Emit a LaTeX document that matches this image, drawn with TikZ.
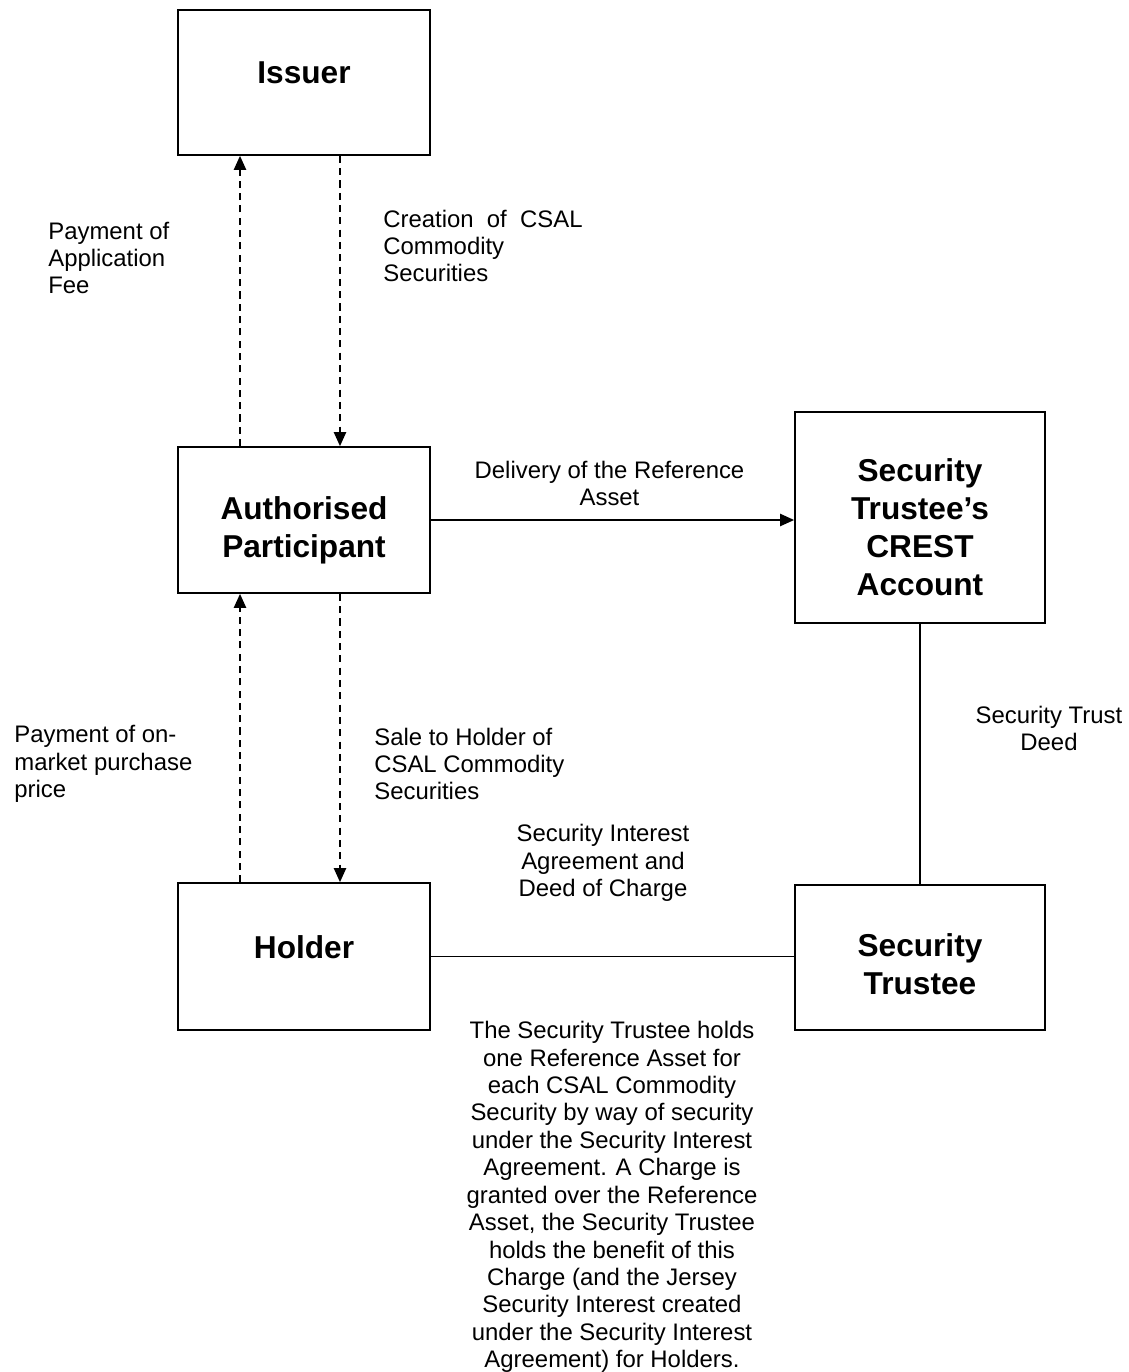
\documentclass[tikz,border=0pt]{standalone}
\usepackage{fontspec}
\setmainfont{Liberation Sans}
\usetikzlibrary{arrows.meta}
\newcommand{\lblfont}{\fontsize{13.6}{15.6}\selectfont}
\newcommand{\boxfont}{\fontsize{18}{21.6}\selectfont\bfseries}

\begin{document}
\begin{tikzpicture}[
  box/.style={draw, line width=1pt, minimum width=5.04cm, minimum height=2.9cm},
  title/.style={align=center, inner sep=0pt, font=\boxfont},
  lbl/.style={align=left, anchor=west, inner sep=0pt, font=\lblfont},
  clbl/.style={align=center, inner sep=0pt, font=\lblfont},
  dasharrow/.style={-{Triangle[length=8pt,width=7pt]}, line width=0.9pt, dash pattern=on 4pt off 3pt},
  solidarrow/.style={-{Triangle[length=8pt,width=7pt]}, line width=0.9pt},
  link/.style={line width=1pt}]
  \useasboundingbox (0,0) rectangle (22.56,-27.44);
  % boxes
  \node[box] (issuer)  at (6.08,-1.65)  {};
  \node[box, minimum height=2.92cm] (ap) at (6.08,-10.4) {};
  \node[box, minimum width=5cm, minimum height=4.22cm] (crest) at (18.4,-10.35) {};
  \node[box, minimum height=2.94cm] (holder) at (6.08,-19.13) {};
  \node[box, minimum width=5cm] (trustee) at (18.4,-19.15) {};
  \node[title] (issuertxt)  at ([yshift=0.2cm]issuer.center)   {Issuer};
  \node[title] (aptxt)      at ([yshift=-0.2cm]ap.center)      {Authorised\\Participant};
  \node[title] (cresttxt)   at ([yshift=-0.2cm]crest.center)   {Security\\Trustee’s\\CREST\\Account};
  \node[title] (holdertxt)  at ([yshift=0.18cm]holder.center)  {Holder};
  \node[title] (trusteetxt) at ([yshift=-0.14cm]trustee.center) {Security\\Trustee};
  % labels
  \node[lbl]  (feelbl)    at (0.96,-5.16)  {Payment of\\Application\\Fee};
  \node[lbl]  (createlbl) at (7.66,-4.92)  {Creation~ of~ CSAL\\Commodity\\Securities};
  \node[clbl] (deliverlbl) at (12.19,-9.67) {Delivery of the Reference\\Asset};
  \node[lbl]  (pricelbl)  at (0.28,-15.28) {Payment of on-\\market purchase\\price};
  \node[lbl]  (salelbl)   at (7.48,-15.28) {Sale to Holder of\\CSAL Commodity\\Securities};
  \node[clbl] (deedlbl)   at (20.98,-14.57) {Security Trust\\Deed};
  \node[clbl] (chargelbl) at (12.06,-17.26) {Security Interest\\Agreement and\\Deed of Charge};
  \node[clbl] (notelbl)   at (12.24,-23.94) {The Security Trustee holds\\one Reference Asset for\\each CSAL Commodity\\Security by way of security\\under the Security Interest\\Agreement. A Charge is\\granted over the Reference\\Asset, the Security Trustee\\holds the benefit of this\\Charge (and the Jersey\\Security Interest created\\under the Security Interest\\Agreement) for Holders.};
  % connectors
  \draw[dasharrow] ([xshift=-1.28cm]ap.north) -- ([xshift=-1.28cm]issuer.south);
  \draw[dasharrow] ([xshift=0.72cm]issuer.south) -- ([xshift=0.72cm]ap.north);
  \draw[dasharrow] ([xshift=-1.28cm]holder.north) -- ([xshift=-1.28cm]ap.south);
  \draw[dasharrow] ([xshift=0.72cm]ap.south) -- ([xshift=0.72cm]holder.north);
  \draw[solidarrow] (ap.east) -- (crest.west |- ap.east);
  \draw[link] (crest.south) -- (trustee.north);
  \draw[link] (holder.east) -- (trustee.west |- holder.east);
\end{tikzpicture}
\end{document}
